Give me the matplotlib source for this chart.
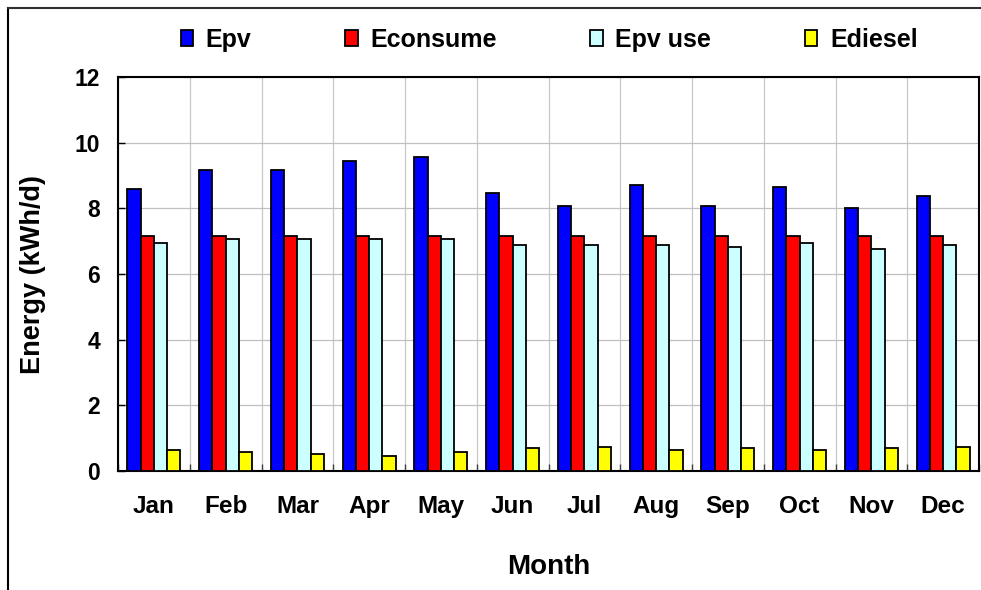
import matplotlib
matplotlib.use("Agg")
import matplotlib.pyplot as plt
from matplotlib.lines import Line2D
import numpy as np

months = ["Jan", "Feb", "Mar", "Apr", "May", "Jun", "Jul", "Aug", "Sep", "Oct", "Nov", "Dec"]
epv = [8.59, 9.16, 9.16, 9.44, 9.55, 8.48, 8.07, 8.70, 8.07, 8.65, 8.02, 8.37]
econsume = [7.16, 7.16, 7.16, 7.16, 7.16, 7.16, 7.16, 7.16, 7.16, 7.16, 7.16, 7.16]
epv_use = [6.94, 7.07, 7.07, 7.07, 7.06, 6.88, 6.88, 6.88, 6.82, 6.94, 6.76, 6.88]
ediesel = [0.63, 0.58, 0.53, 0.47, 0.58, 0.69, 0.74, 0.63, 0.69, 0.63, 0.69, 0.74]

series = [("Epv", epv, "#0000FF"),
          ("Econsume", econsume, "#FF0000"),
          ("Epv use", epv_use, "#CCFFFF"),
          ("Ediesel", ediesel, "#FFFF00")]

plt.rcParams["font.family"] = ["Liberation Sans", "DejaVu Sans"]
plt.rcParams["font.weight"] = "bold"

W, H = 981, 590
fig = plt.figure(figsize=(W / 100, H / 100), dpi=100)
ax = fig.add_axes([118 / W, 1 - 471 / H, 861 / W, 394 / H])

n = len(months)
centers = np.arange(n) + 0.5
bw = 0.185
for k, (name, vals, col) in enumerate(series):
    ax.bar(centers + (k - 1.5) * bw, vals, width=bw, color=col,
           edgecolor="black", linewidth=1.3, label=name, zorder=3)

ax.set_xlim(0, n)
ax.set_ylim(0, 12)
ax.set_yticks(np.arange(0, 13, 2))
ax.set_xticks(centers)
ax.set_xticklabels(months)
ax.set_xticks(np.arange(0, n + 1), minor=True)
ax.tick_params(axis="x", which="major", length=0, pad=17, labelsize=17.5)
ax.tick_params(axis="x", which="minor", direction="in", length=5, width=1, color="#404040")
ax.tick_params(axis="y", direction="in", length=5, width=1, pad=13, labelsize=16.5)
for lab in ax.get_xticklabels() + ax.get_yticklabels():
    lab.set_fontweight("bold")

ax.grid(axis="y", which="major", color="#c0c0c0", linewidth=0.9, zorder=0)
ax.grid(axis="x", which="minor", color="#c8c8c8", linewidth=0.9, zorder=0)
ax.set_axisbelow(True)
for s in ax.spines.values():
    s.set_linewidth(1.5)
    s.set_color("black")

fig.text(33 / W, 1 - 274 / H, "Energy (kWh/d)", rotation=90, ha="center", va="center",
         fontsize=19.5, fontweight="bold")
fig.text(549 / W, 1 - 567 / H, "Month", ha="center", va="center",
         fontsize=20, fontweight="bold")

leg = fig.legend(loc="center", bbox_to_anchor=(549 / W, 1 - 40 / H), ncol=4, frameon=False,
                 handlelength=0.5, handleheight=0.6, handletextpad=0.5,
                 columnspacing=3.75, prop={"weight": "bold", "size": 18})

fig.add_artist(Line2D([7.5 / W, 7.5 / W], [0, 1 - 8 / H], transform=fig.transFigure,
                      color="black", linewidth=1.5))
fig.add_artist(Line2D([7.5 / W, 1], [1 - 8 / H, 1 - 8 / H], transform=fig.transFigure,
                      color="#303030", linewidth=1.5))

fig.savefig("out.png", dpi=100)
